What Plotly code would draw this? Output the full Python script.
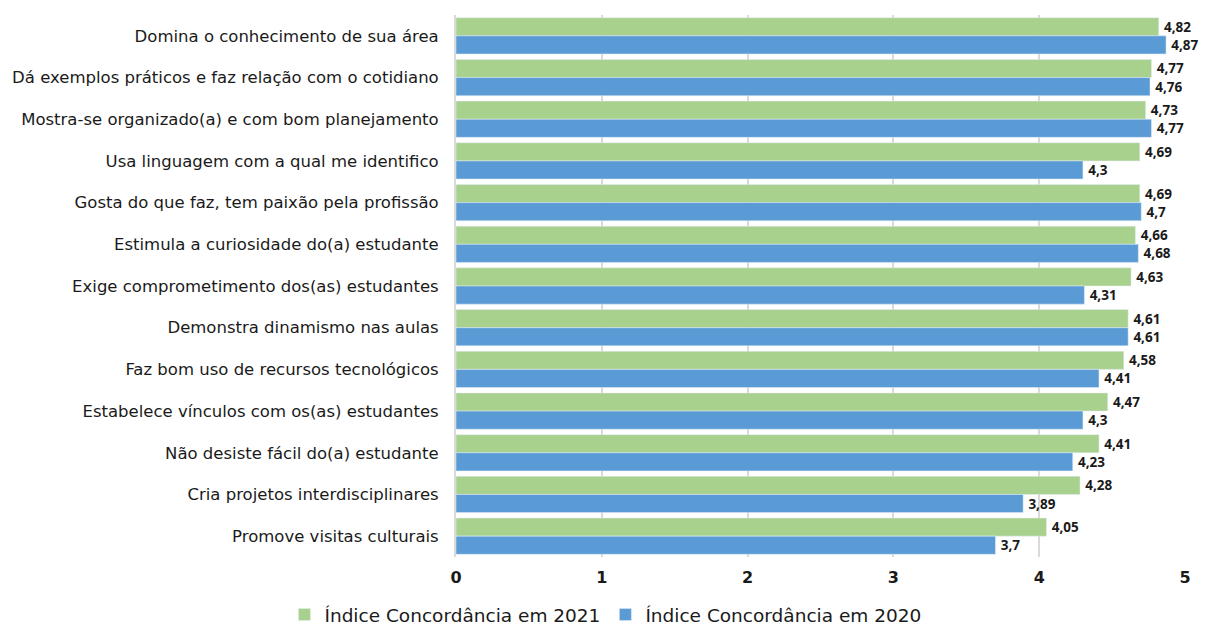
import plotly.graph_objects as go

categories = [
    "Domina o conhecimento de sua área",
    "Dá exemplos práticos e faz relação com o cotidiano",
    "Mostra-se organizado(a) e com bom planejamento",
    "Usa linguagem com a qual me identifico",
    "Gosta do que faz, tem paixão pela profissão",
    "Estimula a curiosidade do(a) estudante",
    "Exige comprometimento dos(as) estudantes",
    "Demonstra dinamismo nas aulas",
    "Faz bom uso de recursos tecnológicos",
    "Estabelece vínculos com os(as) estudantes",
    "Não desiste fácil do(a) estudante",
    "Cria projetos interdisciplinares",
    "Promove visitas culturais",
]
values_2021 = [4.82, 4.77, 4.73, 4.69, 4.69, 4.66, 4.63, 4.61, 4.58, 4.47, 4.41, 4.28, 4.05]
values_2020 = [4.87, 4.76, 4.77, 4.3, 4.7, 4.68, 4.31, 4.61, 4.41, 4.3, 4.23, 3.89, 3.7]
tick_vals = [0, 1, 2, 3, 4, 5]
tick_text = ["0", "1", "2", "3", "4", "5"]

def fmt(v):
    return "\u2009" + ("%g" % v).replace(".", ",")

FONT = "DejaVu Sans, sans-serif"
LABEL_FONT = "Open Sans, sans-serif"
DARK = "#1a1a1a"

fig = go.Figure()
fig.add_trace(go.Bar(
    y=categories, x=values_2021, orientation="h",
    name="Índice Concordância em 2021",
    marker=dict(color="#A9D18E"),
    text=[fmt(v) for v in values_2021], textposition="outside",
    textfont=dict(family=LABEL_FONT, size=13.5, color=DARK, weight="bold"),
    constraintext="none", cliponaxis=False,
))
fig.add_trace(go.Bar(
    y=categories, x=values_2020, orientation="h",
    name="Índice Concordância em 2020",
    marker=dict(color="#5B9BD5"),
    text=[fmt(v) for v in values_2020], textposition="outside",
    textfont=dict(family=LABEL_FONT, size=13.5, color=DARK, weight="bold"),
    constraintext="none", cliponaxis=False,
))

fig.update_layout(
    width=1211, height=626,
    margin=dict(l=448, r=34, t=7, b=77, autoexpand=False),
    paper_bgcolor="white", plot_bgcolor="white",
    barmode="group", bargap=0.13, bargroupgap=0,
    font=dict(family=FONT, size=15, color=DARK),
    xaxis=dict(
        range=[0, 5], tickvals=tick_vals, ticktext=tick_text,
        showgrid=True, gridcolor="#D9D9D9", gridwidth=2,
        zeroline=False, showline=False,
        tickfont=dict(family=FONT, size=16, color=DARK, weight="bold"),
        ticks="", ticklabelstandoff=9,
    ),
    yaxis=dict(
        autorange="reversed", showgrid=False, zeroline=False,
        showline=True, linecolor="#D9D9D9", linewidth=2,
        ticks="", ticklabelstandoff=12,
        tickfont=dict(family=FONT, size=16.5, color=DARK),
    ),
    legend=dict(
        orientation="h", x=0.205, xanchor="center", y=-0.107, yanchor="middle",
        font=dict(family=FONT, size=18.5, color=DARK),
        itemwidth=30,
    ),
)

fig.write_html("out.html")
